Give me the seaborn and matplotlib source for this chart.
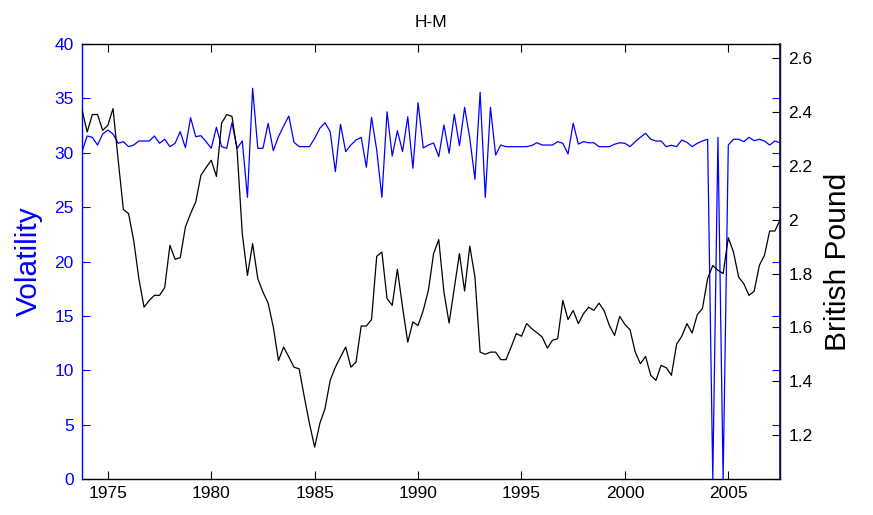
import numpy as np
import pandas as pd
import matplotlib
matplotlib.use("Agg")
import matplotlib.pyplot as plt
import seaborn as sns

sns.set_style("white")
plt.rcParams['font.family'] = ['Liberation Sans', 'DejaVu Sans']
plt.rcParams['text.color'] = 'black'
plt.rcParams['axes.labelcolor'] = 'black'

title = "H-M"
left_label = "Volatility"
right_label = "British Pound"

# quarterly observations, 1973 Q4 .. 2007 Q3
quarters = np.arange(1973.75, 2007.5 + 0.001, 0.25)

volatility = [
    30.10, 31.54, 31.42, 30.71, 31.72, 32.09, 31.72, 30.87, 31.02, 30.56,
    30.71, 31.08, 31.08, 31.08, 31.54, 30.87, 31.24, 30.56, 30.87, 31.94,
    30.46, 33.22, 31.48, 31.57, 31.02, 30.41, 32.34, 30.56, 30.41, 32.76,
    30.41, 31.08, 25.90, 35.93, 30.41, 30.41, 32.71, 30.19, 31.48, 32.46,
    33.38, 30.96, 30.56, 30.56, 30.56, 31.33, 32.25, 32.76, 31.94, 28.26,
    32.62, 30.10, 30.71, 31.17, 31.42, 28.66, 33.26, 30.25, 25.90, 33.77,
    29.70, 32.03, 30.10, 33.31, 28.57, 34.60, 30.44, 30.71, 30.90, 29.64,
    32.55, 29.95, 33.54, 30.65, 34.18, 31.33, 27.56, 35.56, 25.90, 34.18,
    29.79, 30.71, 30.56, 30.56, 30.56, 30.56, 30.56, 30.67, 30.92, 30.71,
    30.71, 30.71, 31.02, 30.87, 29.89, 32.71, 30.80, 31.02, 30.92, 30.92,
    30.56, 30.56, 30.56, 30.78, 30.92, 30.87, 30.56, 31.02, 31.42, 31.79,
    31.24, 31.08, 31.08, 30.56, 30.69, 30.56, 31.17, 30.96, 30.56, 30.87,
    31.08, 31.24, 0.00, 31.42, 0.00, 30.71, 31.24, 31.24, 31.02, 31.42,
    31.11, 31.24, 31.08, 30.71, 31.08, 30.92,
]

gbp = [
    2.409, 2.326, 2.391, 2.391, 2.332, 2.351, 2.413, 2.221, 2.038, 2.023,
    1.923, 1.781, 1.675, 1.700, 1.719, 1.719, 1.748, 1.905, 1.853, 1.859,
    1.973, 2.023, 2.066, 2.165, 2.194, 2.221, 2.161, 2.359, 2.391, 2.384,
    2.258, 1.948, 1.793, 1.911, 1.781, 1.731, 1.690, 1.601, 1.477, 1.527,
    1.490, 1.452, 1.446, 1.341, 1.242, 1.155, 1.243, 1.298, 1.403, 1.452,
    1.490, 1.527, 1.452, 1.471, 1.605, 1.605, 1.629, 1.864, 1.880, 1.707,
    1.682, 1.816, 1.675, 1.545, 1.620, 1.607, 1.663, 1.738, 1.874, 1.926,
    1.731, 1.616, 1.744, 1.874, 1.735, 1.902, 1.787, 1.508, 1.500, 1.508,
    1.508, 1.480, 1.480, 1.527, 1.577, 1.567, 1.614, 1.595, 1.580, 1.564,
    1.523, 1.552, 1.558, 1.700, 1.629, 1.663, 1.614, 1.651, 1.675, 1.663,
    1.690, 1.661, 1.607, 1.570, 1.641, 1.611, 1.591, 1.508, 1.465, 1.492,
    1.422, 1.403, 1.459, 1.450, 1.422, 1.537, 1.567, 1.614, 1.579, 1.647,
    1.670, 1.781, 1.830, 1.812, 1.800, 1.933, 1.880, 1.787, 1.762, 1.719,
    1.734, 1.830, 1.868, 1.958, 1.958, 1.998,
]

x_ticks = [1975, 1980, 1985, 1990, 1995, 2000, 2005]
vol_ticks = [0, 5, 10, 15, 20, 25, 30, 35, 40]
gbp_ticks = [1.2, 1.4, 1.6, 1.8, 2.0, 2.2, 2.4, 2.6]
gbp_tick_labels = ["1.2", "1.4", "1.6", "1.8", "2", "2.2", "2.4", "2.6"]

df = pd.DataFrame({"year": quarters, "vol": volatility, "gbp": gbp})

W, H = 873, 515
fig = plt.figure(figsize=(W / 100, H / 100), dpi=100)
ax1 = fig.add_axes([82 / W, 36 / H, 698 / W, 435 / H])
ax2 = ax1.twinx()

sns.lineplot(data=df, x="year", y="vol", ax=ax1, color="#0000ff", linewidth=0.9)
sns.lineplot(data=df, x="year", y="gbp", ax=ax2, color="black", linewidth=0.9)

ax1.set_xlim(1973.75, 2007.5)
ax1.set_ylim(0, 40)
ax2.set_ylim(1.0365, 2.653)

ax1.set_xticks(x_ticks)
ax1.set_xticklabels([str(t) for t in x_ticks])
ax1.set_yticks(vol_ticks)
ax1.set_yticklabels([str(t) for t in vol_ticks])
ax2.set_yticks(gbp_ticks)
ax2.set_yticklabels(gbp_tick_labels)

fs = 12.5
ax1.tick_params(axis="x", direction="in", top=True, bottom=True, length=6,
                width=0.8, colors="black", labelsize=fs, pad=5)
ax1.tick_params(axis="y", direction="in", left=True, right=True, length=6,
                width=0.8, colors="#0000ff", labelsize=fs, pad=6)
ax2.tick_params(axis="y", direction="in", left=False, right=True, length=6,
                width=0.8, colors="black", labelsize=fs, pad=6)

for s in ax1.spines.values():
    s.set_linewidth(1.0)
    s.set_color("black")
ax1.spines["left"].set_color("#0000ff")
for name in ["left", "top", "bottom"]:
    ax2.spines[name].set_visible(False)
ax2.spines["right"].set_color("#101060")
ax2.spines["right"].set_linewidth(1.2)

ax1.set_xlabel("")
ax1.set_ylabel(left_label, color="#0000ff", fontsize=21.5, labelpad=8)
ax2.set_ylabel(right_label, color="black", fontsize=21.5, labelpad=8)
ax1.set_title(title, fontsize=fs, pad=12, color="black")

fig.savefig("out.png", dpi=100)
